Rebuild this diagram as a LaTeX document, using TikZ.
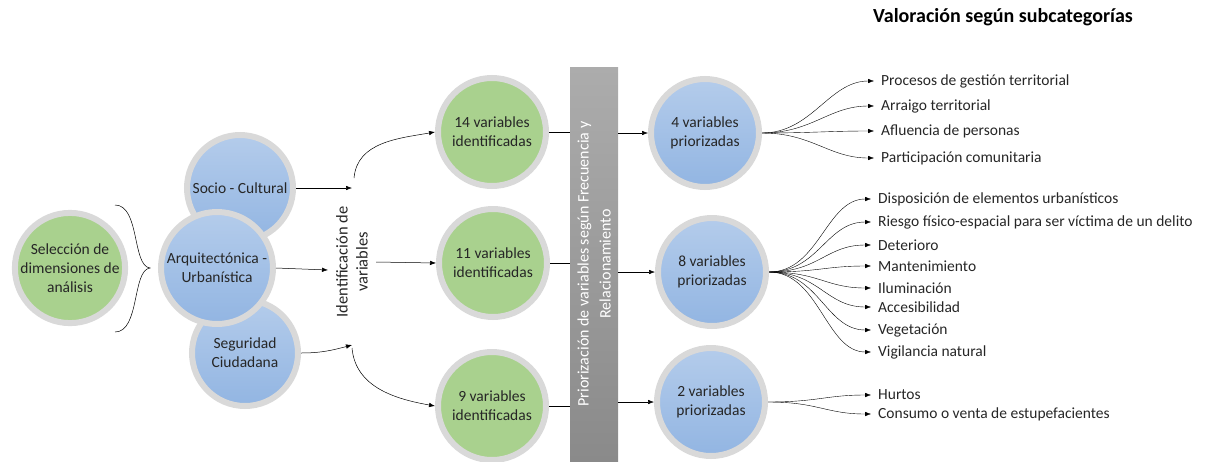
\documentclass[tikz,border=0pt]{standalone}
\usepackage{fontspec}
\setmainfont{Carlito}
\usetikzlibrary{arrows.meta}

\definecolor{ringgray}{RGB}{217,217,217}
\definecolor{bluetop}{RGB}{180,204,235}
\definecolor{bluebot}{RGB}{146,181,226}
\definecolor{greenfill}{RGB}{169,209,142}
\definecolor{bartop}{RGB}{172,172,172}
\definecolor{barbot}{RGB}{138,138,138}
\definecolor{inkgray}{RGB}{38,38,38}

\tikzset{
    ball/.style = {circle, draw = ringgray, line width = 6pt, minimum size = 108pt,
        inner sep = 0pt, align = center, text = inkgray,
        font = \fontsize{15.5}{19}\selectfont},
    green ball/.style = {ball, fill = greenfill},
    blue ball/.style = {ball, top color = bluetop, bottom color = bluebot},
    leaf/.style = {anchor = west, inner xsep = 7pt, inner ysep = 1pt, text = inkgray,
        font = \fontsize{15.5}{19}\selectfont},
    tip/.style = {-{Latex[length = 6pt, width = 4.5pt]}, line width = .5pt},
    fan/.style = {tip, line width = .4pt},
}

\begin{document}
\begin{tikzpicture}[x = 1pt, y = -1pt]
    \useasboundingbox (0, 0) rectangle (1207, 461);

    % dimensions
    \node [green ball] (sel) at (70, 268) {Selección de\\dimensiones de\\análisis};
    \node [blue ball, minimum size = 106pt] (socio) at (240, 188) {Socio - Cultural};
    \node [blue ball, minimum size = 106pt] (seg) at (245, 353) {Seguridad\\Ciudadana};
    \node [blue ball, minimum size = 112pt] (arq) at (217, 268) {Arquitectónica -\\Urbanística};

    \draw [line width = .5pt]
        (115, 205) .. controls (140, 205) and (132, 266) .. (150, 268)
        .. controls (132, 270) and (140, 332) .. (115, 332);

    % identificacion
    \node [rotate = 90, align = center, text = inkgray, font = \fontsize{16.5}{20}\selectfont]
        (ident) at (352, 262) {Identificación de\\variables};
    \coordinate (in1) at (352, 188);
    \coordinate (in2) at (328, 270);
    \coordinate (in3) at (352, 345);
    \coordinate (out1) at (354, 178);
    \coordinate (out2) at (376, 262);
    \coordinate (out3) at (352, 348);

    \node [green ball] (v14) at (492, 132) {14 variables\\identificadas};
    \node [green ball] (v11) at (493, 263) {11 variables\\identificadas};
    \node [green ball] (v9) at (492, 406) {9 variables\\identificadas};

    \draw [tip] (socio.east) -- (in1);
    \draw [tip] (arq.east) -- (in2);
    \draw [tip] (seg.east) to [out = 0, in = 195] (in3);
    \draw [tip] (out1) to [out = 85, in = 190] (v14.west);
    \draw [tip] (out2) -- (v11.west);
    \draw [tip] (out3) to [out = -85, in = 170] (v9.west);

    % priorizacion
    \node [rectangle, minimum width = 48pt, minimum height = 394pt, inner sep = 0pt,
        top color = bartop, bottom color = barbot] (bar) at (594, 264) {};
    \node [rotate = 90, align = center, text = white, font = \fontsize{16}{22}\selectfont]
        (bartext) at (bar.center) {Priorización de variables según Frecuencia y\\Relacionamiento};

    \node [blue ball] (p4) at (705, 133) {4 variables\\priorizadas};
    \node [blue ball] (p8) at (712, 272) {8 variables\\priorizadas};
    \node [blue ball] (p2) at (711, 402) {2 variables\\priorizadas};

    \draw [line width = .5pt] (v14.east) -- (v14.east -| bar.west);
    \draw [line width = .5pt] (v11.east) -- (v11.east -| bar.west);
    \draw [line width = .5pt] (v9.east) -- (v9.east -| bar.west);
    \draw [tip] (bar.east |- p4.west) -- (p4.west);
    \draw [tip] (bar.east |- p8.west) -- (p8.west);
    \draw [tip] (bar.east |- p2.west) -- (p2.west);

    % subcategorias
    \node [font = \fontsize{20}{24}\bfseries, text = black] (title) at (1003, 17) {Valoración según subcategorías};

    \node [leaf] (a1) at (874, 81) {Procesos de gestión territorial};
    \node [leaf] (a2) at (874, 106) {Arraigo territorial};
    \node [leaf] (a3) at (874, 131) {Afluencia de personas};
    \node [leaf] (a4) at (874, 158) {Participación comunitaria};

    \node [leaf] (b1) at (871, 199) {Disposición de elementos urbanísticos};
    \node [leaf] (b2) at (871, 222) {Riesgo físico-espacial para ser víctima de un delito};
    \node [leaf] (b3) at (871, 245) {Deterioro};
    \node [leaf] (b4) at (871, 266) {Mantenimiento};
    \node [leaf] (b5) at (871, 288) {Iluminación};
    \node [leaf] (b6) at (871, 307) {Accesibilidad};
    \node [leaf] (b7) at (871, 330) {Vegetación};
    \node [leaf] (b8) at (871, 352) {Vigilancia natural};

    \node [leaf] (c1) at (871, 395) {Hurtos};
    \node [leaf] (c2) at (871, 414) {Consumo o venta de estupefacientes};

    \foreach \n in {a1, a2, a3, a4}
        \draw [fan] (p4.east) .. controls +(50, 0) and +(-45, 0) .. (\n.west);
    \foreach \n in {b1, b2, b3, b4, b5, b6, b7, b8}
        \draw [fan] (p8.east) .. controls +(50, 0) and +(-45, 0) .. (\n.west);
    \foreach \n in {c1, c2}
        \draw [fan] (p2.east) .. controls +(50, 0) and +(-45, 0) .. (\n.west);
\end{tikzpicture}
\end{document}
